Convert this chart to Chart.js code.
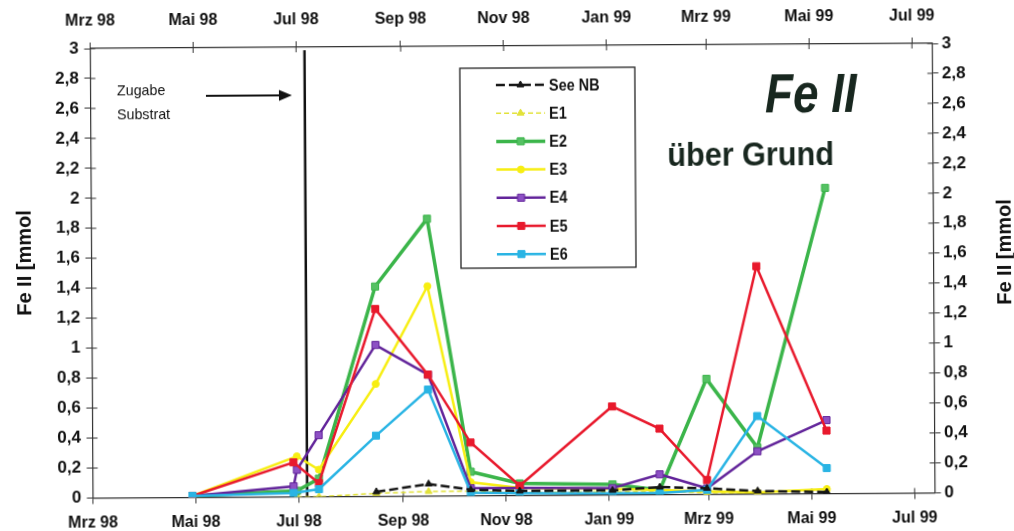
<!DOCTYPE html>
<html>
<head>
<meta charset="utf-8">
<title>Fe II über Grund</title>
<script src="https://cdn.jsdelivr.net/npm/chart.js"></script>
<style>
  html, body { margin: 0; padding: 0; background: #fff; }
  #wrap { width: 1014px; height: 531px; overflow: hidden; }
  /* the scanned original sits slightly rotated */
  #chart { display: block; background: #fff; transform: rotate(-0.35deg); transform-origin: 50% 50%; }
</style>
</head>
<body>
<div id="wrap"><canvas id="chart" width="1014" height="531"></canvas></div>
<script>
// Sampling dates and Fe II values [mmol]
const sampleDates = ['1998-04-29', '1998-06-28', '1998-06-30', '1998-07-13', '1998-08-16', '1998-09-16',
                     '1998-10-11', '1998-11-09', '1999-01-03', '1999-01-31', '1999-02-28', '1999-03-30', '1999-05-10'];

const seeNB = [null, null, null, null, 0.03, 0.08, 0.04, 0.03, 0.03, 0.05, 0.04, 0.02, 0.01];
const e1    = [null, null, 0.00, 0.00, 0.02, 0.03, 0.03, 0.02, 0.02, 0.02, 0.01, 0.01, 0.03];
const e2    = [0.01, null, 0.04, 0.12, 1.40, 1.85, 0.16, 0.08, 0.07, 0.03, 0.77, 0.31, 2.04];
const e3    = [0.01, null, 0.27, 0.18, 0.75, 1.40, 0.09, 0.05, 0.04, 0.03, 0.02, 0.01, 0.03];
const e4    = [0.01, 0.07, 0.18, 0.41, 1.01, 0.81, 0.05, 0.05, 0.045, 0.135, 0.04, 0.285, 0.49];
const e5    = [0.01, 0.23, null, 0.09, 1.25, 0.81, 0.355, 0.065, 0.59, 0.44, 0.095, 1.52, 0.42];
const e6    = [0.01, 0.025, null, 0.05, 0.405, 0.71, 0.02, 0.015, 0.01, 0.01, 0.03, 0.52, 0.17];

// axis
const axisStart = '1998-03-01';
const axisEnd = '1999-07-13';
const tickDates = ['1998-03-01', '1998-05-01', '1998-07-01', '1998-09-01', '1998-11-01',
                   '1999-01-01', '1999-03-01', '1999-05-01', '1999-07-01'];
const tickLabels = ['Mrz 98', 'Mai 98', 'Jul 98', 'Sep 98', 'Nov 98', 'Jan 99', 'Mrz 99', 'Mai 99', 'Jul 99'];

// addition of substrate
const substrateDate = '1998-07-06';

const DAY = 86400000;
const T0 = Date.UTC(1998, 2, 1);
function dayOf(s) {
    let [y, m, d] = s.split('-').map(Number);
    return Math.round((Date.UTC(y, m - 1, d) - T0) / DAY);
}

const series = [
    { label: 'See NB', values: seeNB, color: '#151515', fill: '#151515', width: 2.5, dash: [9, 4], style: 'triangle', radius: 4, order: 0 },
    { label: 'E1', values: e1, color: '#e2e23a', fill: '#e2e23a', width: 1.5, dash: [5, 3], style: 'triangle', radius: 4, order: 6 },
    { label: 'E2', values: e2, color: '#3bb54a', fill: '#55c163', width: 3.5, dash: [], style: 'rect', radius: 5, order: 5 },
    { label: 'E3', values: e3, color: '#f7ee12', fill: '#f7ee12', width: 2.5, dash: [], style: 'circle', radius: 3.5, order: 4 },
    { label: 'E4', values: e4, color: '#62249a', fill: '#8d50c4', width: 2.5, dash: [], style: 'rect', radius: 5, order: 3 },
    { label: 'E5', values: e5, color: '#e8192c', fill: '#e8192c', width: 2.5, dash: [], style: 'rect', radius: 5, order: 2 },
    { label: 'E6', values: e6, color: '#29b4e4', fill: '#29b4e4', width: 2.5, dash: [], style: 'rect', radius: 5, order: 1 }
];

function commaNum(v) {
    return String(Math.round(v * 10) / 10).replace('.', ',');
}

function drawText(ctx, str, x, y, font, sx, align) {
    ctx.save();
    ctx.translate(x, y);
    ctx.scale(sx, 1);
    ctx.font = font;
    ctx.textAlign = align || 'left';
    ctx.fillText(str, 0, 0);
    ctx.restore();
}

function drawMarker(ctx, style, x, y, r, fill, stroke) {
    ctx.beginPath();
    if (style === 'rect') {
        let s = r * Math.SQRT1_2;
        ctx.rect(x - s, y - s, 2 * s, 2 * s);
    } else if (style === 'circle') {
        ctx.arc(x, y, r, 0, Math.PI * 2);
    } else {
        ctx.moveTo(x, y - r);
        ctx.lineTo(x + r * 0.866, y + r * 0.5);
        ctx.lineTo(x - r * 0.866, y + r * 0.5);
        ctx.closePath();
    }
    ctx.fillStyle = fill;
    ctx.fill();
    ctx.lineWidth = 1;
    ctx.strokeStyle = stroke;
    ctx.stroke();
}

const decor = {
    id: 'decor',
    beforeDatasetsDraw(chart) {
        let { ctx, chartArea: a, scales } = chart;
        ctx.save();
        // tick marks reaching into the plot
        ctx.strokeStyle = '#333';
        ctx.lineWidth = 1;
        ctx.beginPath();
        scales.x.ticks.forEach(t => { let p = scales.x.getPixelForValue(t.value); ctx.moveTo(p, a.bottom); ctx.lineTo(p, a.bottom - 5); });
        scales.x2.ticks.forEach(t => { let p = scales.x2.getPixelForValue(t.value); ctx.moveTo(p, a.top); ctx.lineTo(p, a.top + 5); });
        scales.y.ticks.forEach(t => { let p = scales.y.getPixelForValue(t.value); ctx.moveTo(a.left, p); ctx.lineTo(a.left + 5, p); });
        scales.y2.ticks.forEach(t => { let p = scales.y2.getPixelForValue(t.value); ctx.moveTo(a.right, p); ctx.lineTo(a.right - 5, p); });
        ctx.stroke();

        // vertical line: Zugabe Substrat
        let sx = scales.x.getPixelForValue(dayOf(substrateDate));
        ctx.strokeStyle = '#111';
        ctx.lineWidth = 2.5;
        ctx.beginPath();
        ctx.moveTo(sx, scales.y.getPixelForValue(2.98));
        ctx.lineTo(sx, a.bottom);
        ctx.stroke();
        ctx.restore();
    },
    afterDraw(chart) {
        let { ctx } = chart;
        ctx.save();
        ctx.fillStyle = '#111';
        ctx.textBaseline = 'alphabetic';

        // annotation with arrow
        drawText(ctx, 'Zugabe', 118, 93, '15px "Liberation Sans", Arial, sans-serif', 0.95);
        drawText(ctx, 'Substrat', 118, 117, '15px "Liberation Sans", Arial, sans-serif', 0.95);
        ctx.strokeStyle = '#111';
        ctx.lineWidth = 2;
        ctx.beginPath();
        ctx.moveTo(207, 94);
        ctx.lineTo(282, 94);
        ctx.stroke();
        ctx.beginPath();
        ctx.moveTo(293, 94);
        ctx.lineTo(280, 88.5);
        ctx.lineTo(280, 99.5);
        ctx.closePath();
        ctx.fill();

        // title
        ctx.fillStyle = '#18271f';
        drawText(ctx, 'Fe II', 766, 114, 'italic bold 56px "Liberation Sans", Arial, sans-serif', 0.82);
        drawText(ctx, 'über Grund', 668, 167, 'bold 34px "Liberation Sans", Arial, sans-serif', 0.9);

        // axis titles
        ctx.fillStyle = '#111';
        ctx.textBaseline = 'middle';
        [[25, 260], [1005, 255]].forEach(([x, y]) => {
            ctx.save();
            ctx.translate(x, y);
            ctx.rotate(-Math.PI / 2);
            ctx.font = 'bold 20px "Liberation Sans", Arial, sans-serif';
            ctx.textAlign = 'center';
            ctx.fillText('Fe II [mmol', 0, 0);
            ctx.restore();
        });

        // legend
        let bx = 461, by = 68, bw = 175, bh = 200;
        ctx.fillStyle = '#fff';
        ctx.fillRect(bx, by, bw, bh);
        ctx.strokeStyle = '#222';
        ctx.lineWidth = 1.3;
        ctx.strokeRect(bx, by, bw, bh);
        series.forEach((s, i) => {
            let y = 85 + i * 28.2;
            ctx.save();
            ctx.strokeStyle = s.color;
            ctx.lineWidth = s.width;
            ctx.setLineDash(s.dash);
            ctx.beginPath();
            ctx.moveTo(497, y);
            ctx.lineTo(546, y);
            ctx.stroke();
            ctx.setLineDash([]);
            drawMarker(ctx, s.style, 521.5, y, s.radius, s.fill, s.color);
            ctx.restore();
            ctx.fillStyle = '#111';
            ctx.textBaseline = 'middle';
            drawText(ctx, s.label, 550, y + 1, 'bold 17px "Liberation Sans", Arial, sans-serif', 0.85);
        });
        ctx.restore();
    }
};

function xAxis(position, height, padding) {
    return {
        type: 'linear',
        position: position,
        min: dayOf(axisStart),
        max: dayOf(axisEnd),
        afterBuildTicks: scale => { scale.ticks = tickDates.map(d => ({ value: dayOf(d) })); },
        afterFit: scale => { scale.height = height; },
        ticks: {
            autoSkip: false,
            maxRotation: 0,
            padding: padding,
            color: '#111',
            font: { family: '"Liberation Sans", Arial, sans-serif', size: 16, weight: 'bold' },
            callback: (value, index) => tickLabels[index]
        },
        grid: { drawOnChartArea: false, tickLength: 6, color: '#333', tickWidth: 1 },
        border: { color: '#333', width: 1.2 }
    };
}

function yAxis(position, width, padding) {
    return {
        type: 'linear',
        position: position,
        min: 0,
        max: 3,
        afterFit: scale => { scale.width = width; },
        ticks: {
            stepSize: 0.2,
            padding: padding,
            color: '#111',
            font: { family: '"Liberation Sans", Arial, sans-serif', size: 17, weight: 'bold' },
            callback: value => commaNum(value)
        },
        grid: { drawOnChartArea: false, tickLength: 6, color: '#333', tickWidth: 1 },
        border: { color: '#333', width: 1.2 }
    };
}

new Chart(document.getElementById('chart'), {
    type: 'line',
    data: {
        datasets: series.map(s => ({
            label: s.label,
            data: sampleDates.map((d, i) => ({ x: dayOf(d), y: s.values[i] })),
            xAxisID: 'x',
            yAxisID: 'y',
            borderColor: s.color,
            backgroundColor: s.fill,
            borderWidth: s.width,
            borderDash: s.dash,
            pointStyle: s.style,
            pointRadius: s.radius,
            pointBackgroundColor: s.fill,
            pointBorderColor: s.color,
            pointBorderWidth: 1,
            tension: 0,
            spanGaps: true,
            order: s.order
        }))
    },
    options: {
        responsive: false,
        animation: false,
        layout: { padding: 0 },
        plugins: { legend: { display: false }, tooltip: { enabled: false } },
        scales: {
            x: xAxis('bottom', 35.5, 9),
            x2: xAxis('top', 46, 11.5),
            y: yAxis('left', 91.5, 5.5),
            y2: yAxis('right', 80.5, 3.5)
        }
    },
    plugins: [decor]
});
</script>
</body>
</html>
